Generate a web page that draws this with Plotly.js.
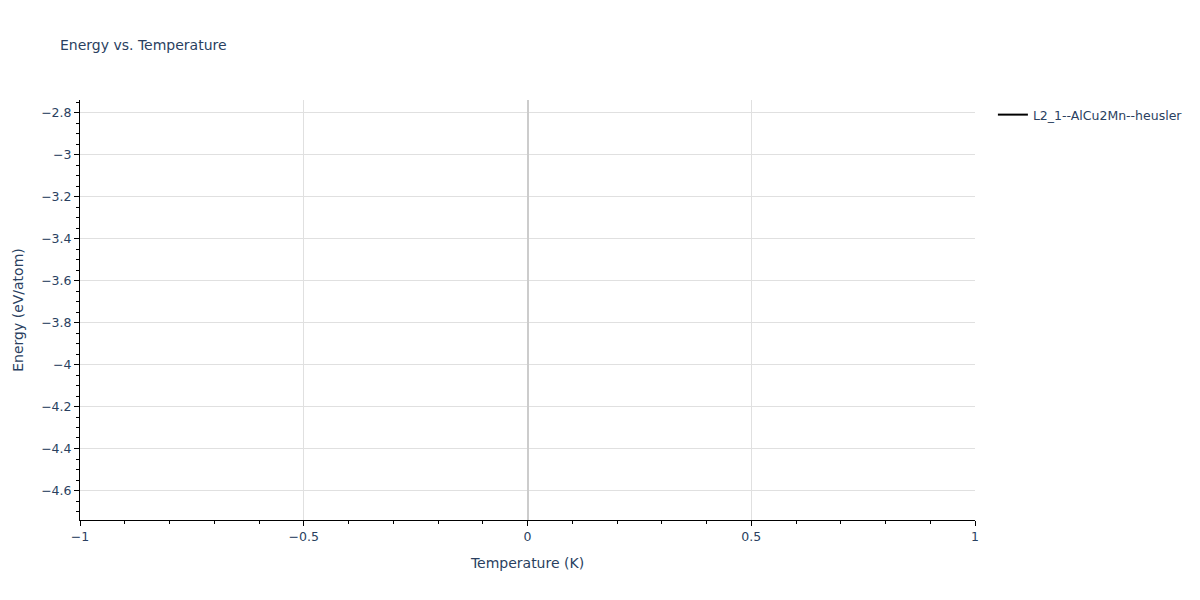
<!DOCTYPE html>
<html>
<head>
<meta charset="utf-8">
<script src="https://cdn.plot.ly/plotly-3.0.1.min.js"></script>
<style>html,body{margin:0;padding:0;background:#fff;}#chart{width:1200px;height:600px;}</style>
</head>
<body>
<div id="chart"></div>
<script>
var seriesName = "L2_1--AlCu2Mn--heusler";
var temperature = [0];
var energy = [-3.7405];

var trace = {
  x: temperature,
  y: energy,
  mode: "lines",
  type: "scatter",
  name: seriesName,
  line: {color: "black", width: 2},
  showlegend: true
};

var axisCommon = {
  showline: true,
  linecolor: "black",
  linewidth: 1,
  ticks: "outside",
  tickcolor: "black",
  ticklen: 5,
  showgrid: true,
  gridcolor: "#e0e0e0",
  zeroline: true,
  zerolinecolor: "#cccccc",
  zerolinewidth: 2,
  tickfont: {color: "#2a3f5f", size: 12.5}
};

var layout = {
  width: 1200,
  height: 600,
  margin: {l: 80, r: 80, t: 100, b: 80},
  paper_bgcolor: "white",
  plot_bgcolor: "white",
  font: {family: "Verdana, \"DejaVu Sans\", sans-serif", color: "#2a3f5f"},
  title: {text: "Energy vs. Temperature", font: {size: 14, color: "#2a3f5f"}, x: 0.05},
  xaxis: Object.assign({}, axisCommon, {
    title: {text: "Temperature (K)", font: {color: "#2a3f5f", size: 14}, standoff: 15},
    automargin: true,
    dtick: 0.5,
    minor: {ticks: "outside", dtick: 0.1, ticklen: 3, tickcolor: "black", showgrid: false}
  }),
  yaxis: Object.assign({}, axisCommon, {
    title: {text: "Energy (eV/atom)", font: {color: "#2a3f5f", size: 14}, standoff: 14},
    automargin: true,
    dtick: 0.2,
    minor: {ticks: "outside", dtick: 0.05, ticklen: 3, tickcolor: "black", showgrid: false}
  }),
  legend: {font: {size: 12.5, color: "#2a3f5f"}},
  showlegend: true
};

Plotly.newPlot("chart", [trace], layout, {displayModeBar: false});
</script>
</body>
</html>
